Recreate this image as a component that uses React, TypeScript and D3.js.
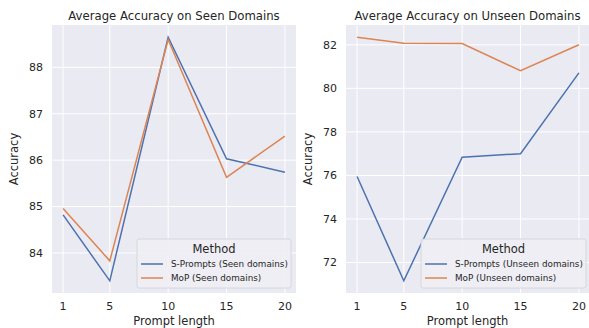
import React from 'react'
import * as d3 from 'd3'

// prompt lengths on the x axis
const promptLengths = [1, 5, 10, 15, 20]

// seen domains
const seenSPrompts = [84.82, 83.4, 88.65, 86.03, 85.74]
const seenMoP = [84.96, 83.83, 88.6, 85.63, 86.52]
const seenTicks = [84, 85, 86, 87, 88]

// unseen domains
const unseenSPrompts = [75.95, 71.16, 76.84, 77.0, 80.71]
const unseenMoP = [82.35, 82.07, 82.06, 80.81, 82.0]
const unseenTicks = [72, 74, 76, 78, 80, 82]

const BLUE = '#4C72B0'
const ORANGE = '#DD8452'
const TEXT = '#262626'
const FONT = 'DejaVu Sans, sans-serif'

type PanelProps = {
  title: string
  left: number
  right: number
  series: { name: string; values: number[]; color: string }[]
  yTicks: number[]
  legendX: number
  legendW: number
}

function Panel(props: PanelProps) {
  const top = 25, bottom = 293
  const all = props.series.flatMap(s => s.values)
  const lo = d3.min(all)!, hi = d3.max(all)!
  const pad = (hi - lo) * 0.05
  const x = d3.scaleLinear().domain([0.05, 20.95]).range([props.left, props.right])
  const y = d3.scaleLinear().domain([lo - pad, hi + pad]).range([bottom, top])
  const line = d3.line<number>()
    .x((d, i) => x(promptLengths[i]))
    .y(d => y(d))
  const cx = (props.left + Math.min(props.right, 589)) / 2
  const lx = props.legendX, ly = 239, lh = 49

  return <g fontFamily={FONT}>
    <rect x={props.left} y={top} width={props.right - props.left} height={bottom - top} fill="#EAEAF2" />
    {promptLengths.map(t =>
      <line key={'gx' + t} x1={x(t)} x2={x(t)} y1={top} y2={bottom} stroke="#fff" strokeWidth={1} />)}
    {props.yTicks.map(t =>
      <line key={'gy' + t} x1={props.left} x2={props.right} y1={y(t)} y2={y(t)} stroke="#fff" strokeWidth={1} />)}
    {props.series.map(s =>
      <path key={s.name} d={line(s.values)!} fill="none" stroke={s.color} strokeWidth={1.5} />)}
    {promptLengths.map(t =>
      <text key={'tx' + t} x={x(t)} y={310} textAnchor="middle" fontSize={11} fill={TEXT}>{t}</text>)}
    {props.yTicks.map(t =>
      <text key={'ty' + t} x={props.left - 9} y={y(t)} dy="0.35em" textAnchor="end" fontSize={11} fill={TEXT}>{t}</text>)}
    <text x={cx} y={20} textAnchor="middle" fontSize={11.7} fill={TEXT}>{props.title}</text>
    <text x={cx} y={325} textAnchor="middle" fontSize={11.5} fill={TEXT}>Prompt length</text>
    <text transform={`translate(${props.left - 34},${(top + bottom) / 2}) rotate(-90)`} textAnchor="middle" fontSize={11.5} fill={TEXT}>Accuracy</text>
    <rect x={lx} y={ly} width={props.legendW} height={lh} rx={2} fill="#EEEEF4" fillOpacity={0.9} stroke="#D0D0D6" strokeWidth={0.8} />
    <text x={lx + props.legendW / 2} y={ly + 14} textAnchor="middle" fontSize={11.5} fill={TEXT}>Method</text>
    {props.series.map((s, i) =>
      <g key={'lg' + s.name}>
        <line x1={lx + 4} x2={lx + 26} y1={ly + 25 + i * 14} y2={ly + 25 + i * 14} stroke={s.color} strokeWidth={1.5} />
        <text x={lx + 34} y={ly + 25 + i * 14} dy="0.35em" fontSize={8.8} fill={TEXT}>{s.name}</text>
      </g>)}
  </g>
}

export default function App() {
  return <div style={{ position: 'absolute', left: 0, top: 0 }}>
    <svg width={589} height={328} style={{ display: 'block', background: '#fff' }}>
      <Panel title="Average Accuracy on Seen Domains" left={52} right={296}
        series={[
          { name: 'S-Prompts (Seen domains)', values: seenSPrompts, color: BLUE },
          { name: 'MoP (Seen domains)', values: seenMoP, color: ORANGE },
        ]}
        yTicks={seenTicks} legendX={137} legendW={154} />
      <Panel title="Average Accuracy on Unseen Domains" left={346} right={590}
        series={[
          { name: 'S-Prompts (Unseen domains)', values: unseenSPrompts, color: BLUE },
          { name: 'MoP (Unseen domains)', values: unseenMoP, color: ORANGE },
        ]}
        yTicks={unseenTicks} legendX={421} legendW={165} />
    </svg>
  </div>
}
